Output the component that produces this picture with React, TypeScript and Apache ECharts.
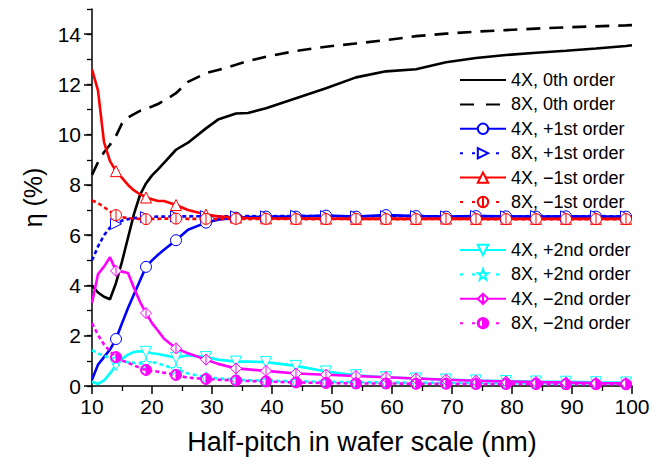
import React, { useEffect, useRef } from 'react';
import * as echarts from 'echarts';

// Half-pitch (nm) sample positions
const X = [10, 11, 12, 13, 14, 15, 16, 17, 18, 19, 20, 21, 22, 24, 26, 29, 31, 34, 36, 39, 44, 49, 54, 59, 64, 69, 74, 79, 84, 89, 94, 99, 100];
// positions carrying a marker
const MARK_X = [14, 19, 24, 29, 34, 39, 44, 49, 54, 59, 64, 69, 74, 79, 84, 89, 94, 99];

const ZERO_4X = [4.0, 3.72, 3.55, 3.45, 4.1, 4.95, 5.9, 6.85, 7.6, 8.06, 8.38, 8.62, 8.88, 9.4, 9.68, 10.25, 10.6, 10.84, 10.86, 11.05, 11.45, 11.85, 12.28, 12.52, 12.6, 12.88, 13.05, 13.17, 13.26, 13.34, 13.43, 13.53, 13.56];
const ZERO_8X = [8.4, 8.9, 9.3, 9.6, 9.95, 10.45, 10.68, 10.82, 10.95, 11.03, 11.12, 11.22, 11.35, 11.65, 12.1, 12.45, 12.57, 12.78, 12.93, 13.1, 13.33, 13.5, 13.63, 13.76, 13.92, 14.02, 14.1, 14.16, 14.22, 14.27, 14.31, 14.35, 14.36];
const PLUS1_4X = [0.25, 0.85, 1.15, 1.45, 1.87, 2.5, 3.1, 3.65, 4.2, 4.74, 5.0, 5.22, 5.42, 5.8, 6.22, 6.5, 6.62, 6.7, 6.72, 6.74, 6.74, 6.78, 6.74, 6.8, 6.76, 6.74, 6.76, 6.75, 6.74, 6.75, 6.74, 6.74, 6.74];
const PLUS1_8X = [5.0, 5.55, 6.0, 6.3, 6.45, 6.58, 6.64, 6.68, 6.7, 6.72, 6.73, 6.74, 6.74, 6.75, 6.75, 6.76, 6.75, 6.75, 6.76, 6.75, 6.77, 6.76, 6.75, 6.76, 6.76, 6.75, 6.76, 6.75, 6.76, 6.75, 6.76, 6.75, 6.75];
const MINUS1_4X = [12.6, 11.75, 9.7, 8.95, 8.55, 8.28, 8.0, 7.78, 7.63, 7.5, 7.43, 7.36, 7.36, 7.2, 7.0, 6.82, 6.75, 6.7, 6.68, 6.67, 6.66, 6.66, 6.65, 6.66, 6.65, 6.66, 6.65, 6.65, 6.65, 6.65, 6.65, 6.65, 6.65];
const MINUS1_8X = [7.38, 7.28, 7.12, 6.95, 6.8, 6.72, 6.68, 6.66, 6.65, 6.64, 6.65, 6.65, 6.66, 6.66, 6.65, 6.65, 6.64, 6.65, 6.64, 6.65, 6.64, 6.64, 6.65, 6.64, 6.64, 6.65, 6.64, 6.64, 6.64, 6.64, 6.64, 6.64, 6.64];
const PLUS2_4X = [0.17, 0.08, 0.22, 0.5, 0.83, 1.08, 1.25, 1.35, 1.38, 1.36, 1.3, 1.27, 1.22, 1.12, 1.22, 1.15, 1.05, 0.97, 0.97, 0.95, 0.8, 0.58, 0.43, 0.35, 0.3, 0.26, 0.22, 0.2, 0.18, 0.17, 0.15, 0.14, 0.14];
const PLUS2_8X = [1.43, 1.3, 1.2, 1.12, 1.05, 0.98, 0.95, 0.92, 0.9, 0.92, 0.95, 0.9, 0.82, 0.68, 0.5, 0.35, 0.3, 0.25, 0.23, 0.21, 0.19, 0.17, 0.15, 0.14, 0.13, 0.12, 0.12, 0.11, 0.11, 0.1, 0.1, 0.1, 0.1];
const MINUS2_4X = [3.3, 4.45, 4.75, 5.12, 4.58, 4.55, 4.5, 3.9, 3.35, 2.9, 2.5, 2.2, 1.88, 1.5, 1.3, 1.05, 0.88, 0.7, 0.66, 0.6, 0.5, 0.45, 0.4, 0.35, 0.3, 0.25, 0.21, 0.18, 0.16, 0.14, 0.12, 0.11, 0.1];
const MINUS2_8X = [2.5, 2.03, 1.65, 1.38, 1.15, 1.02, 0.93, 0.82, 0.72, 0.64, 0.6, 0.57, 0.53, 0.44, 0.33, 0.28, 0.25, 0.22, 0.2, 0.18, 0.14, 0.12, 0.1, 0.1, 0.09, 0.09, 0.08, 0.08, 0.08, 0.07, 0.07, 0.07, 0.07];

const NAMES = [
  '4X, 0th order',
  '8X, 0th order',
  '4X, +1st order',
  '8X, +1st order',
  '4X, \u22121st order',
  '8X, \u22121st order',
  '4X, +2nd order',
  '8X, +2nd order',
  '4X, \u22122nd order',
  '8X, \u22122nd order',
];

const FONT = '"Liberation Sans", Arial, Helvetica, sans-serif';

const SYM_CIRCLE = 'path://M0,10A10,10,0,1,1,20,10A10,10,0,1,1,0,10Z';
const SYM_CIRCLE_BAR = 'path://M0,10A10,10,0,1,1,20,10A10,10,0,1,1,0,10ZM10,0L10,20';
const SYM_DIAMOND_BAR = 'path://M10,0L20,10L10,20L0,10ZM10,0L10,20';
const SYM_STAR = 'path://M10,0L12.35,6.76L19.51,6.91L13.8,11.24L15.88,18.09L10,14L4.12,18.09L6.2,11.24L0.49,6.91L7.65,6.76Z';
const SYM_HALF = 'path://M10,0A10,10,0,0,1,10,20ZM10,0A10,10,0,0,0,10,20L10,18.2A8.2,8.2,0,0,1,10,1.8Z';
const SYM_TRI = 'path://M10,0L20,18L0,18Z';

function pts(ys: number[], marked: boolean) {
  return X.map((x, i) =>
    marked && MARK_X.includes(x) ? { value: [x, ys[i]] } : { value: [x, ys[i]], symbol: 'none' }
  );
}

export default function App() {
  const ref = useRef<HTMLDivElement>(null);
  useEffect(() => {
    const chart = echarts.init(ref.current!, null, { renderer: 'svg' });
    const mk = (
      name: string,
      ys: number[],
      color: string,
      dash: any,
      symbol: string,
      fill: string,
      size: number,
      rotate = 0
    ) => ({
      type: 'line',
      name,
      data: pts(ys, symbol !== 'none'),
      symbol,
      symbolSize: size,
      symbolRotate: rotate,
      showSymbol: true,
      showAllSymbol: true,
      xAxisIndex: 0,
      yAxisIndex: 0,
      lineStyle: { color, width: 2.6, type: dash },
      itemStyle: { color: fill, borderColor: color, borderWidth: 1 },
      emphasis: { disabled: true },
    });
    const DOT = [4, 3];
    const series = [
      mk(NAMES[0], ZERO_4X, '#000000', 'solid', 'none', '#000', 0),
      mk(NAMES[1], ZERO_8X, '#000000', [14, 9], 'none', '#000', 0),
      mk(NAMES[2], PLUS1_4X, '#0000ff', 'solid', SYM_CIRCLE, '#ffffff', 11),
      mk(NAMES[3], PLUS1_8X, '#0000ff', DOT, SYM_TRI, '#ffffff', 11, -90),
      mk(NAMES[4], MINUS1_4X, '#ff0000', 'solid', SYM_TRI, '#ffffff', 11),
      mk(NAMES[5], MINUS1_8X, '#ff0000', DOT, SYM_CIRCLE_BAR, '#ffffff', 11),
      mk(NAMES[6], PLUS2_4X, '#00ffff', 'solid', SYM_TRI, '#ffffff', 11, 180),
      mk(NAMES[7], PLUS2_8X, '#00ffff', DOT, SYM_STAR, '#ffffff', 11),
      mk(NAMES[8], MINUS2_4X, '#ff00ff', 'solid', SYM_DIAMOND_BAR, '#ffffff', 11),
      mk(NAMES[9], MINUS2_8X, '#ff00ff', DOT, SYM_HALF, '#ff00ff', 11),
    ];
    const noSym = { color: 'rgba(0,0,0,0)', borderColor: 'rgba(0,0,0,0)', borderWidth: 0 };
    const sparse = { type: [3, 9] };
    const legendData1 = [
      { name: NAMES[0], itemStyle: noSym },
      { name: NAMES[1], itemStyle: noSym, lineStyle: { type: [14, 12] } },
      { name: NAMES[2] },
      { name: NAMES[3], lineStyle: sparse },
      { name: NAMES[4] },
      { name: NAMES[5], lineStyle: sparse },
    ];
    const legendData2 = [
      { name: NAMES[6] },
      { name: NAMES[7], lineStyle: sparse },
      { name: NAMES[8] },
      { name: NAMES[9], lineStyle: sparse },
    ];
    const legendBase = {
      orient: 'vertical',
      left: 454,
      itemWidth: 46,
      itemHeight: 13,
      itemGap: 4.4,
      selectedMode: false,
      textStyle: { fontSize: 18, fontFamily: FONT, color: '#000', lineHeight: 20 },
    };
    chart.setOption({
      animation: false,
      backgroundColor: '#ffffff',
      textStyle: { fontFamily: FONT },
      grid: { left: 92, right: 38, top: 9, bottom: 81, containLabel: false },
      legend: [
        { ...legendBase, top: 65, data: legendData1 },
        { ...legendBase, top: 235, data: legendData2 },
      ],
      xAxis: {
        type: 'value',
        min: 10,
        max: 100,
        interval: 10,
        name: 'Half-pitch in wafer scale (nm)',
        nameLocation: 'middle',
        nameGap: 42,
        nameTextStyle: { fontSize: 27, fontFamily: FONT, color: '#000' },
        axisLine: { show: true, onZero: false, lineStyle: { color: '#000', width: 1.5 } },
        axisTick: { show: true, length: 8, lineStyle: { color: '#000', width: 1.5 } },
        minorTick: { show: true, splitNumber: 2, length: 5, lineStyle: { color: '#000', width: 1.3 } },
        axisLabel: { fontSize: 21, color: '#000', margin: 10, fontFamily: FONT },
        splitLine: { show: false },
        minorSplitLine: { show: false },
      },
      yAxis: [
        {
          type: 'value',
          position: 'left',
          min: 0,
          max: 15,
          interval: 1,
          axisLine: { show: true, onZero: false, lineStyle: { color: '#000', width: 1.5 } },
          axisTick: { show: true, length: 5, lineStyle: { color: '#000', width: 1.3 } },
          axisLabel: { show: false },
          splitLine: { show: false },
        },
        {
          type: 'value',
          position: 'left',
          min: 0,
          max: 15,
          interval: 2,
          name: '\u03b7 (%)',
          nameLocation: 'middle',
          nameGap: 47,
          nameRotate: 90,
          nameTextStyle: { fontSize: 25, fontFamily: FONT, color: '#000' },
          axisLine: { show: false },
          axisTick: { show: true, length: 8, lineStyle: { color: '#000', width: 1.5 } },
          axisLabel: {
            fontSize: 21,
            color: '#000',
            margin: 11,
            fontFamily: FONT,
            showMaxLabel: false,
            formatter: (v: number) => (v > 14 ? '' : String(v)),
          },
          splitLine: { show: false },
        },
      ],
      series,
    });
    return () => chart.dispose();
  }, []);
  return (
    <div
      ref={ref}
      style={{ position: 'fixed', left: 0, top: 0, width: 670, height: 467, background: '#fff' }}
    />
  );
}
